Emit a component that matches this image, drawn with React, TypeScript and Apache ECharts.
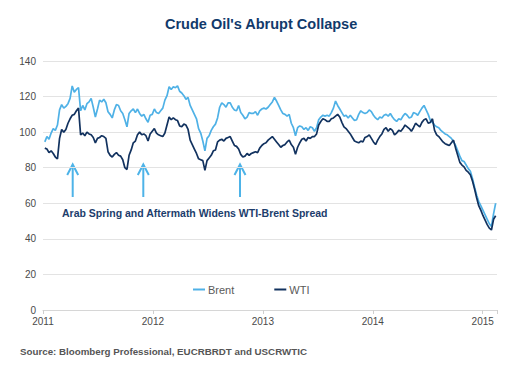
import React, { useEffect, useRef } from "react";
import * as echarts from "echarts";

// Weekly closing prices (USD/bbl), first week ending 2011-01-07, one value per week
const brent: number[] = [
  // 2011
  94.5, 97.5, 96, 99.5, 102, 101, 104, 112.5, 115.5, 113.5, 114.5, 116, 119, 126, 122.5, 124, 125,
  112, 115, 112.5, 116, 117, 119, 114, 108.5, 113, 118, 117, 118.5, 116.5, 111.5, 110, 108, 112.5,
  115.5, 115, 112, 110.5, 107, 103, 110.5, 112, 113, 111, 113, 110.5, 109, 110, 107.5, 105.5, 109.5, 110,
  // 2012
  113, 111, 110.5, 112, 113.5, 118, 120.5, 125.5, 124, 125.5, 125, 126, 123, 122, 120.5, 118.5, 119.5,
  115, 112.5, 110, 107.5, 102, 99.5, 95, 89.5, 96.5, 98, 101, 103, 104.5, 108, 114, 116.5, 115.5, 114,
  116.5, 116.5, 114, 112.5, 112, 115, 111, 109.5, 107.5, 108.5, 111, 110.5, 110.5, 111.5, 109.5, 112, 113,
  // 2013
  113.5, 113, 114, 115.5, 117, 119.5, 117.5, 115, 112.5, 110.5, 110, 109, 110, 105, 102.5, 98, 102.5,
  103.5, 103, 101.5, 102.5, 101, 103, 102.5, 100.5, 102.5, 107, 108.5, 109.5, 109, 109.5, 109, 111, 113.5,
  117.5, 115, 113, 111, 109, 109.5, 108, 109.5, 108, 106.5, 107, 110, 112, 111, 110.5, 111, 112.5, 111.5,
  // 2014
  109.5, 108, 107, 108.5, 108, 109.5, 110, 109, 110.5, 108.5, 107, 106, 107.5, 107, 109, 110.5, 109.5,
  108, 108.5, 111, 110.5, 109.5, 111.5, 113.5, 115, 112.5, 110, 106.5, 105.5, 104, 103, 102.5, 101, 100,
  99, 98.5, 97.5, 96.5, 94.5, 92.5, 89.5, 86.5, 84, 83.5, 81.5, 79.5, 78, 74, 69, 64.5, 61, 58.5,
  // 2015
  56, 53.5, 51, 48.5, 47, 54, 60,
];

const wti: number[] = [
  // 2011
  91, 90.5, 88.5, 89.5, 88, 86, 85, 96.5, 101.5, 100, 101.5, 105, 107.5, 109.5, 110, 112, 113.5,
  98.5, 99.5, 98, 100, 99, 98.5, 97, 94, 96.5, 97, 98, 97.5, 96.5, 89, 87, 86, 87.5,
  88.5, 87, 86.5, 84.5, 80, 79, 87, 90, 94, 95, 98.5, 100, 98.5, 99, 98, 95, 99, 100.5,
  // 2012
  102, 99.5, 98.5, 98, 97.5, 99.5, 104, 108.5, 107, 108, 107, 106.5, 103.5, 103, 104.5, 104, 101.5,
  95.5, 93, 90.5, 88, 85, 84.5, 84, 78.5, 84, 85.5, 87, 89.5, 90, 94.5, 95.5, 96, 95, 96.5,
  97, 97.5, 95, 92.5, 92, 90.5, 87.5, 86, 86.5, 88, 87, 88, 88.5, 89, 88.5, 91, 92.5,
  // 2013
  93.5, 94, 95.5, 96.5, 97.5, 96, 94.5, 93, 91.5, 92.5, 93, 94.5, 95.5, 93, 91.5, 87.5, 91.5,
  94, 96, 96.5, 95, 97, 96.5, 97.5, 97.5, 99, 104, 106, 107.5, 107, 106, 106, 107.5, 108,
  109, 110, 108.5, 105.5, 103, 102, 100.5, 99, 97, 95, 94.5, 94, 95, 94.5, 97, 97.5, 98.5, 96.5,
  // 2014
  94.5, 93, 95.5, 97.5, 99, 101.5, 102.5, 100.5, 102, 101, 98.5, 99.5, 101, 100.5, 102, 104, 103,
  102, 100.5, 102.5, 105, 104, 103, 105.5, 107, 107.5, 105, 105.5, 107.5, 101, 98.5, 97.5, 96, 94.5,
  93.5, 93, 92.5, 94, 95.5, 91, 87, 83, 81.5, 80.5, 78.5, 77.5, 76, 72.5, 68, 63, 58.5, 56,
  // 2015
  53, 50.5, 48, 46, 45, 51, 53,
];

const seriesNames: string[] = ["Brent", "WTI"];
const yearTicks: number[] = [2011, 2012, 2013, 2014, 2015];

const FIRST_WEEK = Date.UTC(2011, 0, 7);
const YEAR0 = Date.UTC(2011, 0, 1);
const DAY = 86400000;
const weekToYear = (i: number) => 2011 + (FIRST_WEEK + i * 7 * DAY - YEAR0) / (365.25 * DAY);

const BRENT_COLOR = "#4fb1e6";
const WTI_COLOR = "#12325f";
const ARROW_COLOR = "#4db3e8";
const SANS = "Liberation Sans, Arial, sans-serif";

export default function App() {
  const ref = useRef<HTMLDivElement>(null);

  useEffect(() => {
    document.body.style.margin = "0";
    if (!ref.current) return;
    const chart = echarts.init(ref.current, null, { renderer: "svg" });

    const arrow = (x: number) => ({
      type: "group",
      children: [
        { type: "line", shape: { x1: x, y1: 197, x2: x, y2: 165 }, style: { stroke: ARROW_COLOR, lineWidth: 2 } },
        {
          type: "polyline",
          shape: { points: [[x - 5.5, 175], [x, 164.5], [x + 5.5, 175]] },
          style: { stroke: ARROW_COLOR, lineWidth: 2, fill: "none" },
        },
      ],
    });

    chart.setOption({
      animation: false,
      backgroundColor: "#ffffff",
      title: {
        text: "Crude Oil's Abrupt Collapse",
        left: 160,
        top: 11,
        textStyle: { fontFamily: SANS, fontSize: 14.5, fontWeight: "bold", color: "#113a6b" },
      },
      legend: {
        data: seriesNames,
        left: 193,
        top: 284,
        padding: 0,
        icon: "rect",
        itemWidth: 12,
        itemHeight: 2,
        itemGap: 40,
        textStyle: { fontFamily: SANS, fontSize: 11, color: "#5a5a5a", padding: [0, 0, 0, -2] },
      },
      grid: { left: 43, right: 17, top: 61, bottom: 69 },
      xAxis: {
        type: "value",
        min: yearTicks[0],
        max: 2015.13,
        interval: 1,
        axisLine: { show: true, lineStyle: { color: "#d6d6d6", width: 1 } },
        axisTick: { show: true, length: 4, lineStyle: { color: "#cfcfcf" } },
        splitLine: { show: false },
        axisLabel: {
          margin: 6,
          fontFamily: SANS,
          fontSize: 10,
          color: "#4a4a4a",
          formatter: (v: number) => (yearTicks.indexOf(Math.round(v * 1000) / 1000) >= 0 ? String(v) : ""),
        },
      },
      yAxis: {
        type: "value",
        min: 0,
        max: 140,
        interval: 20,
        axisLine: { show: false },
        axisTick: { show: false },
        splitLine: { lineStyle: { color: "#e3e3e3", width: 1 } },
        axisLabel: { margin: 7, fontFamily: SANS, fontSize: 10, color: "#4a4a4a" },
      },
      series: [
        {
          name: seriesNames[0],
          type: "line",
          showSymbol: false,
          data: brent.map((v, i) => [weekToYear(i), v]),
          lineStyle: { color: BRENT_COLOR, width: 1.7 },
          itemStyle: { color: BRENT_COLOR },
        },
        {
          name: seriesNames[1],
          type: "line",
          showSymbol: false,
          data: wti.map((v, i) => [weekToYear(i), v]),
          lineStyle: { color: WTI_COLOR, width: 1.7 },
          itemStyle: { color: WTI_COLOR },
        },
      ],
      graphic: [
        arrow(72.7),
        arrow(143.3),
        arrow(240),
        {
          type: "text",
          x: 62,
          y: 213,
          style: {
            text: "Arab Spring and Aftermath Widens WTI-Brent Spread",
            fontFamily: SANS,
            fontSize: 10.5,
            fontWeight: "bold",
            fill: "#1c3d6c",
            textVerticalAlign: "middle",
          },
        },
        {
          type: "text",
          x: 20,
          y: 351,
          style: {
            text: "Source: Bloomberg Professional, EUCRBRDT and USCRWTIC",
            fontFamily: SANS,
            fontSize: 9.75,
            fontWeight: "bold",
            fill: "#555555",
            textVerticalAlign: "middle",
          },
        },
      ],
    });

    return () => chart.dispose();
  }, []);

  return <div ref={ref} style={{ width: 514, height: 379 }} />;
}
